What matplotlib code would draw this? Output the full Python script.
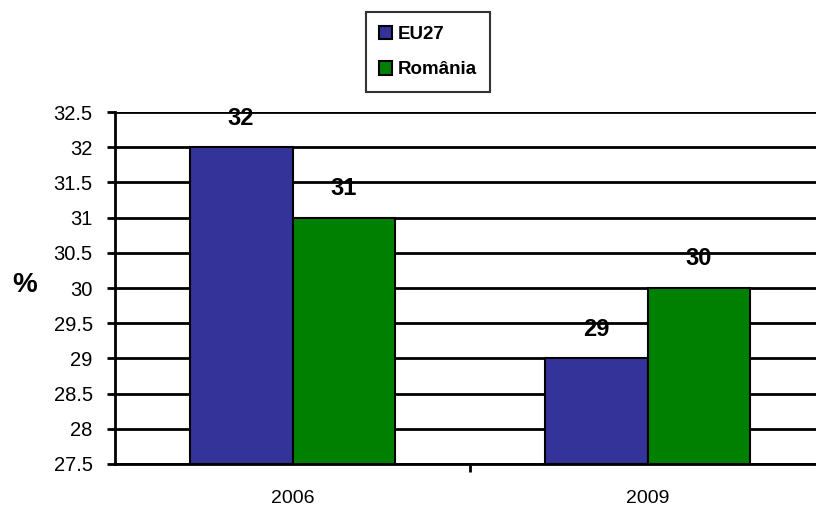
import numpy as np
import matplotlib.pyplot as plt
from matplotlib.patches import Patch

plt.rcParams['font.family'] = ['Liberation Sans', 'DejaVu Sans']

years = ['2006', '2009']
eu27 = [32, 29]
romania = [31, 30]
series_names = ['EU27', 'România']
colors = ['#333399', '#008000']
base = 27.5

fig = plt.figure(figsize=(8.16, 5.08), dpi=100)
ax = fig.add_axes([115 / 816, 1 - 464 / 508, 710 / 816, 352 / 508])

x = np.arange(len(years))
w = 0.29
for vals, off, c in [(eu27, -w / 2, colors[0]), (romania, w / 2, colors[1])]:
    heights = [v - base for v in vals]
    bars = ax.bar(x + off, heights, w, bottom=base, color=c, edgecolor='black',
                  linewidth=1.5, zorder=3)
    for b, v in zip(bars, vals):
        ax.annotate(str(v), (b.get_x() + b.get_width() / 2, v), xytext=(0, 21),
                    textcoords='offset points', ha='center', va='center',
                    fontsize=17, fontweight='bold')

ax.set_ylim(27.5, 32.5)
ax.set_xlim(-0.5, 1.5)
ticks = np.arange(27.5, 32.6, 0.5)
ax.set_yticks(ticks)
ax.set_yticklabels([f'{v:g}' for v in ticks], fontsize=14.5)
ax.yaxis.grid(True, color='black', linewidth=2, zorder=0)
ax.set_axisbelow(True)

ax.set_xticks(x)
ax.set_xticklabels(years, fontsize=14)
ax.tick_params(axis='x', length=0, pad=19)
ax.set_xticks([0.5], minor=True)
ax.tick_params(axis='x', which='minor', length=6, width=2, color='black')
ax.tick_params(axis='y', length=6, width=2, direction='out', pad=10)

for s in ['top', 'right']:
    ax.spines[s].set_visible(False)
for s in ['left', 'bottom']:
    ax.spines[s].set_linewidth(2)

fig.text(25 / 816, 1 - 285 / 508, '%', fontsize=20, fontweight='bold',
         ha='center', va='center')

handles = [Patch(facecolor=c, edgecolor='black', linewidth=1.5) for c in colors]
leg = fig.legend(handles, series_names, loc='center',
                 bbox_to_anchor=(428 / 816, 1 - 52 / 508), frameon=True,
                 fancybox=False, edgecolor='black', handlelength=0.7,
                 handleheight=0.7, handletextpad=0.3, labelspacing=1.0,
                 borderpad=0.7, prop={'weight': 'bold', 'size': 13.5})
leg.get_frame().set_linewidth(1.5)

fig.savefig('out.png', dpi=100)
